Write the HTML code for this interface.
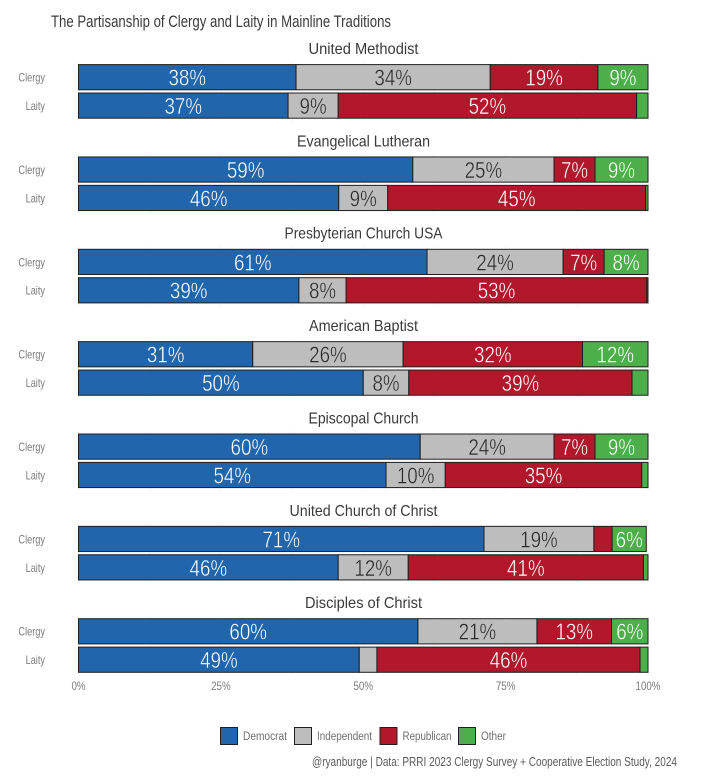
<!DOCTYPE html>
<html lang="en">
<head>
<meta charset="utf-8">
<title>The Partisanship of Clergy and Laity in Mainline Traditions</title>
<style>
html,body{margin:0;padding:0;background:#fff;width:720px;height:777px;overflow:hidden}
svg{display:block;font-family:"Liberation Sans",sans-serif}
</style>
</head>
<body>
<svg id="chart" xmlns="http://www.w3.org/2000/svg" width="720" height="777" viewBox="0 0 720 777">
<rect x="0" y="0" width="720" height="777" fill="#ffffff"/>
<text x="51" y="27" font-size="17" fill="#3a3a3a" textLength="340" lengthAdjust="spacingAndGlyphs">The Partisanship of Clergy and Laity in Mainline Traditions</text>
<text x="312" y="766" font-size="13" fill="#5a5a5a" textLength="365" lengthAdjust="spacingAndGlyphs">@ryanburge | Data: PRRI 2023 Clergy Survey + Cooperative Election Study, 2024</text>
</svg>
<script>
const traditions = ["United Methodist","Evangelical Lutheran","Presbyterian Church USA","American Baptist","Episcopal Church","United Church of Christ","Disciples of Christ"];
const rowLabels = ["Clergy","Laity"];
const partyNames = ["Democrat","Independent","Republican","Other"];
const democratClergy    = [38.2,58.7,61.2,30.6,60.0,71.2,59.6];
const independentClergy = [34.1,24.8,23.9,26.4,23.5,19.3,20.9];
const republicanClergy  = [18.9, 7.2, 7.2,31.5, 7.2, 3.2,13.1];
const otherClergy       = [ 8.8, 9.3, 7.7,11.5, 9.3, 6.0, 6.4];
const democratLaity     = [36.8,45.7,38.7,50.0,54.0,45.6,49.3];
const independentLaity  = [ 8.8, 8.6, 8.3, 8.0,10.4,12.3, 3.1];
const republicanLaity   = [52.4,45.3,52.8,39.2,34.5,41.3,46.2];
const otherLaity        = [ 2.0, 0.4, 0.2, 2.8, 1.1, 0.8, 1.4];
const tickValues = [0,25,50,75,100];
const tickLabels = ["0%","25%","50%","75%","100%"];

const svg = document.getElementById('chart');
const NS = 'http://www.w3.org/2000/svg';
const fills = ['#2166ac','#bdbdbd','#b2182b','#4daf4a'];
const inkColors = ['#ffffff','#2a2a2a','#ffffff','#ffffff'];

function xScale(v){ return 78.5 + v / 100 * 569.5; }
function panelTop(p){ return 64.6 + p * 92.35; }
function rowTop(p, r){ return panelTop(p) + r * 28.4; }
const barHeight = 25.2;

function addRect(x, y, w, h, fill, stroke, sw){
  const el = document.createElementNS(NS, 'rect');
  el.setAttribute('x', x);
  el.setAttribute('y', y);
  el.setAttribute('width', w);
  el.setAttribute('height', h);
  el.setAttribute('fill', fill);
  if (stroke) { el.setAttribute('stroke', stroke); el.setAttribute('stroke-width', sw); }
  svg.appendChild(el);
  return el;
}
function addLine(x1, y1, x2, y2, color, sw){
  const el = document.createElementNS(NS, 'line');
  el.setAttribute('x1', x1);
  el.setAttribute('y1', y1);
  el.setAttribute('x2', x2);
  el.setAttribute('y2', y2);
  el.setAttribute('stroke', color);
  el.setAttribute('stroke-width', sw);
  svg.appendChild(el);
  return el;
}
function addText(str, x, y, size, color, anchor, sx){
  const el = document.createElementNS(NS, 'text');
  el.textContent = str;
  el.setAttribute('transform', 'translate(' + x + ',' + y + ') scale(' + sx + ',1)');
  el.setAttribute('font-size', size);
  el.setAttribute('fill', color);
  el.setAttribute('text-anchor', anchor);
  svg.appendChild(el);
  return el;
}

const titleWidths = [110,133,158,109,110,148,117];
const seriesClergy = [democratClergy, independentClergy, republicanClergy, otherClergy];
const seriesLaity = [democratLaity, independentLaity, republicanLaity, otherLaity];

traditions.forEach(function(name, p){
  // faint gridlines behind each panel
  [0,12.5,25,37.5,50,62.5,75,87.5,100].forEach(function(g){
    const grid = addLine(xScale(g), panelTop(p) - 3, xScale(g), rowTop(p,1) + barHeight + 3, '#efefef', 0.7);
    
    
  });
  const title = addText(name, 363.5, panelTop(p) - 10.6, 16, '#3a3a3a', 'middle', 1);
  title.setAttribute('textLength', titleWidths[p]);
  title.setAttribute('lengthAdjust', 'spacingAndGlyphs');
  
  

  rowLabels.forEach(function(label, r){
    const rowLabel = addText(label, 45, rowTop(p, r) + 17, 11.5, '#7a7a7a', 'end', 0.8);
    
    
    const series = r === 0 ? seriesClergy : seriesLaity;
    let cum = 0;
    series.forEach(function(values, s){
      const v = values[p];
      const x0 = xScale(cum);
      const x1 = xScale(cum + v);
      const bar = addRect(x0, rowTop(p, r), x1 - x0, barHeight, fills[s], '#1f1f1f', 1);
      
      
      cum += v;
    });
    cum = 0;
    series.forEach(function(values, s){
      const v = values[p];
      if (v >= 6) {
        const lbl = addText(Math.round(v) + '%', (xScale(cum) + xScale(cum + v)) / 2, rowTop(p, r) + 21, 23.5, inkColors[s], 'middle', 0.8);
        lbl.setAttribute('stroke', fills[s]);
        lbl.setAttribute('stroke-width', '0.45');
        
        
      }
      cum += v;
    });
  });
});

tickValues.forEach(function(t, i){
  const tick = addText(tickLabels[i], xScale(t), 690, 11.5, '#7a7a7a', 'middle', 0.85);
  
  
});

const legendStarts = [220.5, 294.5, 380, 458.5];
const legendTextWidths = [44, 55, 49, 25];
partyNames.forEach(function(name, i){
  const swatch = addRect(legendStarts[i], 727.5, 17, 17, fills[i], '#1f1f1f', 1);
  
  
  const entry = addText(name, legendStarts[i] + 22.5, 740, 11.5, '#6e6e6e', 'start', 1);
  entry.setAttribute('textLength', legendTextWidths[i]);
  entry.setAttribute('lengthAdjust', 'spacingAndGlyphs');
  
  
});
</script>
</body>
</html>
